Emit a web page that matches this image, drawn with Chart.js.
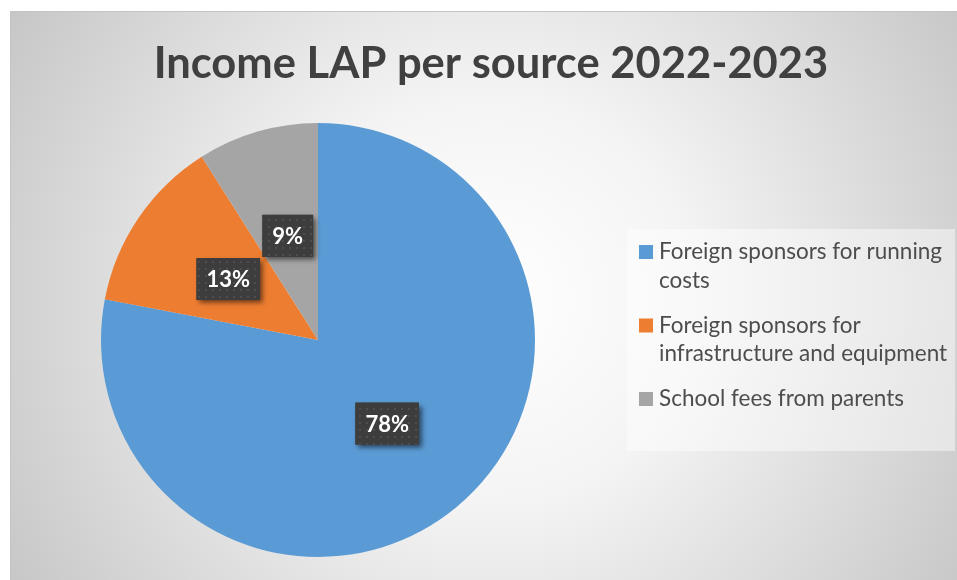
<!DOCTYPE html>
<html>
<head>
<meta charset="utf-8">
<script src="https://cdn.jsdelivr.net/npm/chart.js@4.4.1/dist/chart.umd.min.js"></script>
<style>
    html, body { margin: 0; padding: 0; background: #ffffff; }
    #wrap { position: relative; width: 957px; height: 580px; }
</style>
</head>
<body>
<div id="wrap"><canvas id="incomePie"></canvas></div>
<script>
// Chart data
const chartTitle = 'Income LAP per source 2022-2023';
const sources = [
    'Foreign sponsors for running costs',
    'Foreign sponsors for infrastructure and equipment',
    'School fees from parents'
];
const shares = [78, 13, 9];
const sliceColors = ['#5B9BD5', '#ED7D31', '#A5A5A5'];

const FONT = 'Lato, "Open Sans", sans-serif';

// Background, border and title
const backgroundPlugin = {
    id: 'background',
    beforeDraw(chart) {
        const ctx = chart.ctx;
        const w = chart.width, h = chart.height;
        ctx.save();
        ctx.fillStyle = '#ffffff';
        ctx.fillRect(0, 0, w, h);

        const grad = ctx.createRadialGradient(490, 300, 0, 490, 300, 580);
        grad.addColorStop(0, '#ffffff');
        grad.addColorStop(0.35, '#f4f4f4');
        grad.addColorStop(1, '#c4c4c4');
        ctx.fillStyle = grad;
        ctx.fillRect(10, 11, w - 10, h - 11);

        ctx.strokeStyle = '#c4c4c4';
        ctx.lineWidth = 1;
        ctx.beginPath();
        ctx.moveTo(10.5, h);
        ctx.lineTo(10.5, 11.5);
        ctx.lineTo(w, 11.5);
        ctx.stroke();

        ctx.fillStyle = '#404040';
        ctx.font = 'bold 43.5px ' + FONT;
        ctx.textAlign = 'center';
        ctx.textBaseline = 'alphabetic';
        ctx.fillText(chartTitle, 491, 78);
        ctx.restore();
    }
};

// Legend drawn on the right with wrapped labels
const sideLegendPlugin = {
    id: 'sideLegend',
    afterDraw(chart) {
        const ctx = chart.ctx;
        ctx.save();
        ctx.fillStyle = 'rgba(255, 255, 255, 0.45)';
        ctx.fillRect(627, 229, 328, 222);

        ctx.font = '22.5px ' + FONT;
        ctx.textBaseline = 'middle';
        ctx.textAlign = 'left';
        const maxWidth = 292;
        const colors = chart.data.datasets[0].backgroundColor;
        let y = 252;
        chart.data.labels.forEach(function(label, i) {
            // wrap words
            const words = label.split(' ');
            const lines = [];
            let line = '';
            words.forEach(function(word) {
                const test = line ? line + ' ' + word : word;
                if (ctx.measureText(test).width > maxWidth && line) {
                    lines.push(line);
                    line = word;
                } else {
                    line = test;
                }
            });
            lines.push(line);

            ctx.fillStyle = colors[i];
            ctx.fillRect(639, y - 7, 14, 14);
            ctx.fillStyle = '#4d4d4d';
            lines.forEach(function(l, j) {
                ctx.fillText(l, 659, y + j * 28.5);
            });
            y += (lines.length - 1) * 28.5 + 45;
        });
        ctx.restore();
    }
};

// Dark dotted label boxes on each slice
function makePattern(ctx) {
    const tile = document.createElement('canvas');
    tile.width = 7;
    tile.height = 7;
    const t = tile.getContext('2d');
    t.fillStyle = '#3d3d3d';
    t.fillRect(0, 0, 7, 7);
    t.fillStyle = '#4e4e4e';
    t.fillRect(2, 2, 2, 2);
    return ctx.createPattern(tile, 'repeat');
}

const sliceLabelPlugin = {
    id: 'sliceLabels',
    afterDatasetsDraw(chart) {
        const ctx = chart.ctx;
        const meta = chart.getDatasetMeta(0);
        const values = chart.data.datasets[0].data;
        const pattern = makePattern(ctx);
        ctx.save();
        ctx.font = 'bold 22px ' + FONT;
        meta.data.forEach(function(arc, i) {
            const pos = arc.getCenterPoint();
            const text = values[i] + '%';
            const tw = ctx.measureText(text).width;
            const bw = tw + 20, bh = 42;
            const x = pos.x - bw / 2, y = pos.y - bh / 2;

            ctx.save();
            ctx.shadowColor = 'rgba(0, 0, 0, 0.55)';
            ctx.shadowBlur = 5;
            ctx.shadowOffsetX = 3;
            ctx.shadowOffsetY = 3;
            ctx.fillStyle = '#3d3d3d';
            ctx.fillRect(x, y, bw, bh);
            ctx.restore();
            ctx.fillStyle = pattern;
            ctx.fillRect(x, y, bw, bh);

            ctx.fillStyle = '#ffffff';
            ctx.textAlign = 'center';
            ctx.textBaseline = 'middle';
            ctx.fillText(text, pos.x, pos.y + 1);
        });
        ctx.restore();
    }
};

document.addEventListener('DOMContentLoaded', function() {
    const ctx = document.getElementById('incomePie');

    new Chart(ctx, {
        type: 'pie',
        data: {
            labels: sources,
            datasets: [{
                data: shares,
                backgroundColor: sliceColors,
                borderWidth: 0
            }]
        },
        options: {
            responsive: true,
            maintainAspectRatio: false,
            animation: false,
            layout: {
                padding: { left: 101, right: 422, top: 123, bottom: 23 }
            },
            plugins: {
                legend: { display: false },
                title: { display: false },
                tooltip: { enabled: false }
            }
        },
        plugins: [backgroundPlugin, sliceLabelPlugin, sideLegendPlugin]
    });
});
</script>
</body>
</html>
